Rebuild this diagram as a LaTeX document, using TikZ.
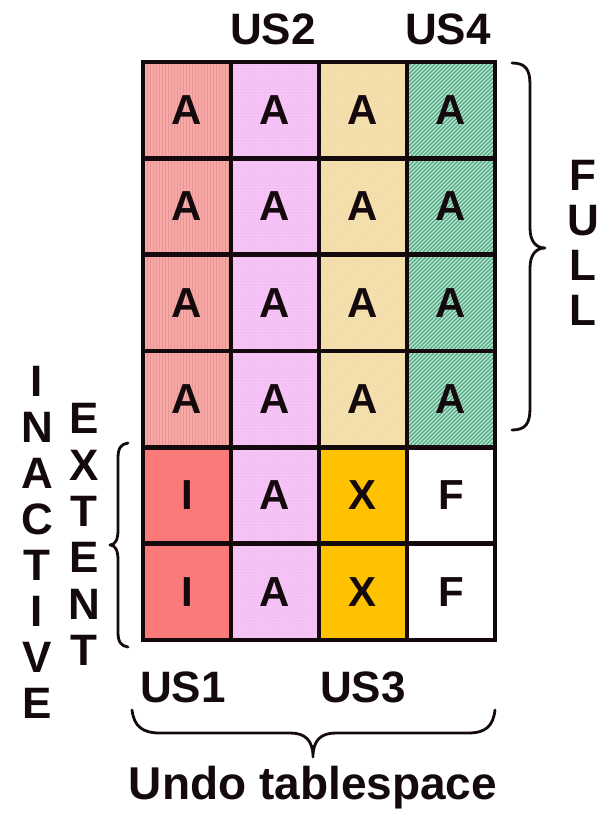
\documentclass[tikz,border=0pt]{standalone}
\usepackage{fontspec}
\setmainfont{Liberation Sans}
\usetikzlibrary{patterns}

\definecolor{ink}{RGB}{20,10,14}
\definecolor{usAbase}{RGB}{246,170,168}
\definecolor{usAline}{RGB}{236,148,148}
\definecolor{usAinact}{RGB}{250,122,122}
\definecolor{usBbase}{RGB}{246,196,246}
\definecolor{usBline}{RGB}{226,164,226}
\definecolor{usCbase}{RGB}{249,230,184}
\definecolor{usCline}{RGB}{236,208,150}
\definecolor{usCx}{RGB}{255,194,0}
\definecolor{usDbase}{RGB}{184,236,212}
\definecolor{usDline}{RGB}{86,164,130}

% wider diagonal hatching for the fourth segment
\pgfdeclarepatternformonly{wide north east lines}{\pgfqpoint{-1pt}{-1pt}}{\pgfqpoint{5pt}{5pt}}{\pgfqpoint{4pt}{4pt}}{
  \pgfsetlinewidth{1.2pt}
  \pgfpathmoveto{\pgfqpoint{-0.1pt}{-0.1pt}}
  \pgfpathlineto{\pgfqpoint{4.1pt}{4.1pt}}
  \pgfusepath{stroke}
}

\begin{document}
\begin{tikzpicture}[x=1pt,y=-1pt,
  cellbox/.style={rectangle, minimum width=88pt, minimum height=96.33pt,
    inner sep=0pt, text=ink, font=\fontsize{42}{42}\selectfont\bfseries},
  fullA/.style={preaction={fill=usAbase}, pattern=vertical lines, pattern color=usAline},
  fullB/.style={preaction={fill=usBbase}, pattern=dots, pattern color=usBline},
  fullC/.style={preaction={fill=usCbase}, pattern=north east lines, pattern color=usCline},
  fullD/.style={preaction={fill=usDbase}, pattern=wide north east lines, pattern color=usDline},
  gridline/.style={draw=ink, line width=4.5pt, line join=miter},
  bracestroke/.style={draw=ink, line width=2.8pt, line cap=round, line join=round},
  vlet/.style={inner sep=0pt, text height=31.5pt, text depth=0pt, text=ink,
    font=\fontsize{44}{44}\selectfont\bfseries},
  biglabel/.style={inner sep=0pt, text height=31.5pt, text depth=0pt, text=ink,
    font=\fontsize{44}{44}\selectfont\bfseries},
]
\useasboundingbox (0,0) rectangle (598,819);

% full extents of the four undo segments
\foreach \r in {1,...,4} {
  \node[cellbox, fullA] (c\r-1) at (187,{62+96.33*(\r-0.5)}) {A};
  \node[cellbox, fullB] (c\r-2) at (275,{62+96.33*(\r-0.5)}) {A};
  \node[cellbox, fullC] (c\r-3) at (363,{62+96.33*(\r-0.5)}) {A};
  \node[cellbox, fullD] (c\r-4) at (451,{62+96.33*(\r-0.5)}) {A};
}
% lower two rows: inactive, active, expired, free
\foreach \r in {5,6} {
  \node[cellbox, fill=usAinact] (c\r-1) at (187,{62+96.33*(\r-0.5)}) {I};
  \node[cellbox, fullB] (c\r-2) at (275,{62+96.33*(\r-0.5)}) {A};
  \node[cellbox, fill=usCx] (c\r-3) at (363,{62+96.33*(\r-0.5)}) {X};
  \node[cellbox, fill=white] (c\r-4) at (451,{62+96.33*(\r-0.5)}) {F};
}
% grid lines on top of the fills
\foreach \r in {1,...,6} {
  \foreach \c in {1,...,4} {
    \draw[gridline] (c\r-\c.north west) rectangle (c\r-\c.south east);
  }
}

% segment labels
\node[biglabel] (us2) at (273,29) {US2};
\node[biglabel] (us4) at (448,29) {US4};
\node[biglabel] (us1) at (183,687) {US1};
\node[biglabel] (us3) at (363,687) {US3};

% right brace and vertical FULL
\draw[bracestroke] (512,63) .. controls (526,63) and (530,70) .. (530,85)
  -- (530,228) .. controls (530,240) and (535,248) .. (545,248)
  .. controls (535,248) and (530,256) .. (530,268)
  -- (530,408) .. controls (530,423) and (526,430) .. (512,430);
\foreach \ch [count=\i] in {F,U,L,L}
  \node[vlet] (fu\i) at (583,{130+45*\i}) {\ch};

% left brace and vertical INACTIVE / EXTENT
\draw[bracestroke] (128,443) .. controls (121,444) and (118,448) .. (118,458)
  -- (118,530) .. controls (118,540) and (115,545) .. (110,545)
  .. controls (115,545) and (118,550) .. (118,560)
  -- (118,632) .. controls (118,642) and (121,646) .. (128,647);
\foreach \ch [count=\i] in {I,N,A,C,T,I,V,E}
  \node[vlet] (in\i) at (37,{335+46*\i}) {\ch};
\foreach \ch [count=\i] in {E,X,T,E,N,T}
  \node[vlet] (ex\i) at (84,{371.6+46.4*\i}) {\ch};

% bottom brace and caption
\draw[bracestroke] (132,710) .. controls (134,726) and (142,733) .. (160,733)
  -- (290,733) .. controls (305,733) and (313,740) .. (313,757)
  .. controls (313,740) and (321,733) .. (336,733)
  -- (468,733) .. controls (486,733) and (493,726) .. (495,710);
\node[inner sep=0pt, text height=33pt, text depth=0pt, text=ink,
  font=\fontsize{46}{46}\selectfont\bfseries] (undo) at (313,783) {Undo tablespace};
\end{tikzpicture}
\end{document}
